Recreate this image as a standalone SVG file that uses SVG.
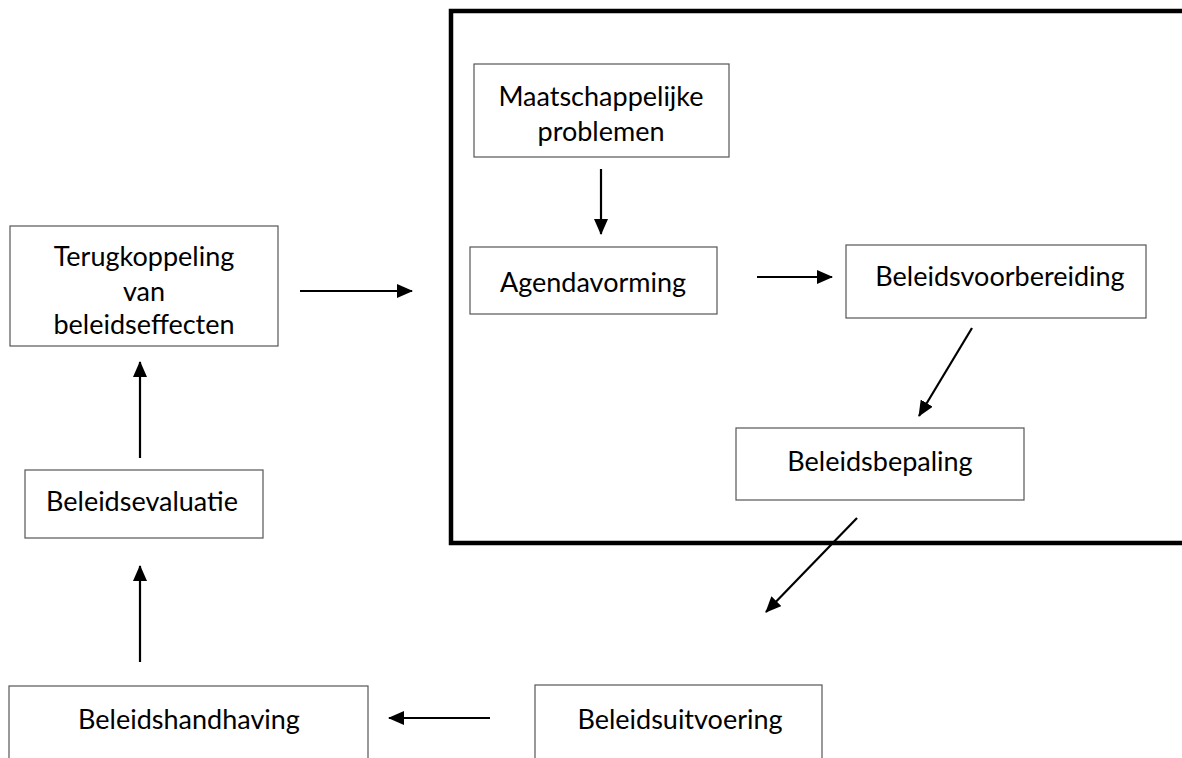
<svg xmlns="http://www.w3.org/2000/svg" width="1182" height="758" viewBox="0 0 1182 758">
<style>
.box{fill:#fff;stroke:#555;stroke-width:1.2}
.t{font-family:"Lato","Liberation Sans",sans-serif;font-size:27px;fill:#000;text-anchor:middle}
.c{stroke:#000;stroke-width:2.2;fill:none;marker-end:url(#ah)}
</style>
<defs>
<marker id="ah" markerWidth="16" markerHeight="14" refX="15" refY="7" orient="auto" markerUnits="userSpaceOnUse" viewBox="0 0 16 14">
<path d="M0,0 L16,7 L0,14 z" fill="#000"/>
</marker>
</defs>
<rect width="1182" height="758" fill="#fff"/>
<g id="frame"><path d="M1190,11 L451,11 L451,543 L1190,543" fill="none" stroke="#000" stroke-width="4.5"/></g>
<g id="maatschappelijke"><rect class="box" x="474" y="64" width="255" height="93"/><text class="t" x="601" y="106">Maatschappelijke</text><text class="t" x="601" y="141">problemen</text></g>
<g id="agendavorming"><rect class="box" x="470" y="247" width="247" height="67"/><text class="t" x="593" y="292">Agendavorming</text></g>
<g id="beleidsvoorbereiding"><rect class="box" x="846" y="245" width="300" height="73"/><text class="t" x="1000" y="286">Beleidsvoorbereiding</text></g>
<g id="beleidsbepaling"><rect class="box" x="736" y="428" width="288" height="72"/><text class="t" x="880" y="471">Beleidsbepaling</text></g>
<g id="beleidsuitvoering"><rect class="box" x="535" y="685" width="287" height="80"/><text class="t" x="680" y="729">Beleidsuitvoering</text></g>
<g id="beleidshandhaving"><rect class="box" x="9" y="686" width="359" height="80"/><text class="t" x="189" y="729">Beleidshandhaving</text></g>
<g id="beleidsevaluatie"><rect class="box" x="25" y="470" width="238" height="68"/><text class="t" x="142" y="511">Beleidsevaluatie</text></g>
<g id="terugkoppeling"><rect class="box" x="10" y="226" width="268" height="120"/><text class="t" x="144" y="266">Terugkoppeling</text><text class="t" x="144" y="301">van</text><text class="t" x="144" y="334">beleidseffecten</text></g>
<g id="connectors">
<line class="c" x1="601" y1="169" x2="601" y2="234"/>
<line class="c" x1="757" y1="277" x2="832" y2="277"/>
<line class="c" x1="972" y1="328" x2="919" y2="416"/>
<line class="c" x1="857" y1="518" x2="766" y2="612"/>
<line class="c" x1="490" y1="718" x2="389" y2="718"/>
<line class="c" x1="140" y1="662" x2="140" y2="566"/>
<line class="c" x1="140" y1="458" x2="140" y2="362"/>
<line class="c" x1="300" y1="291" x2="412" y2="291"/>
</g>
</svg>
